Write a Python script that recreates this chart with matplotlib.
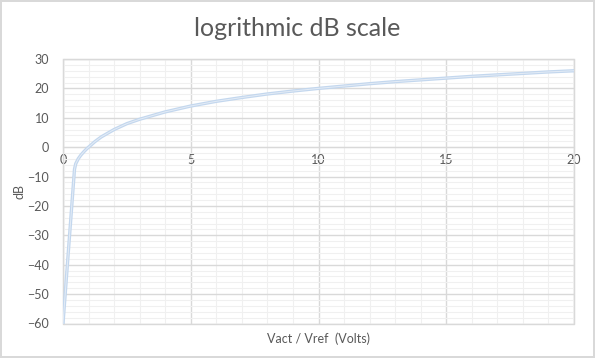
import matplotlib.pyplot as plt
from matplotlib.ticker import MultipleLocator

# values
ratio = [0, 0.45, 0.5, 0.6, 0.7, 0.8, 0.9, 1, 1.25, 1.5, 2, 2.5, 3, 4, 5, 6, 7, 8, 9, 10,
         11, 12, 13, 14, 15, 16, 17, 18, 19, 20]
db = [-60, -7.5, -5.6, -3.9, -2.7, -1.7, -0.8, 0, 1.9, 3.5, 6.0, 8.0, 9.5, 12.0, 14.0, 15.6,
      16.9, 18.1, 19.1, 20.0, 20.8, 21.6, 22.3, 22.9, 23.5, 24.1, 24.6, 25.1, 25.6, 26.0]

plt.rcParams['font.family'] = ['Lato', 'DejaVu Sans']
text_color = '#595959'
major_color = '#d9d9d9'
minor_color = '#f0f0f0'

fig = plt.figure(figsize=(5.95, 3.58), dpi=100)
fig.patch.set_edgecolor(major_color)
fig.patch.set_linewidth(1.5)
ax = fig.add_axes([63 / 595, 1 - 323.5 / 358, (574 - 63) / 595, (323.5 - 59) / 358])

ax.plot(ratio, db, color='#c3d7ee', lw=2.4, solid_joinstyle='round', zorder=3)
ax.plot(ratio, db, color='#e4ecf6', lw=0.7, solid_joinstyle='round', zorder=4)

ax.set_xlim(0, 20)
ax.set_ylim(-60, 30)
ax.xaxis.set_major_locator(MultipleLocator(5))
ax.xaxis.set_minor_locator(MultipleLocator(1))
ax.yaxis.set_major_locator(MultipleLocator(10))
ax.yaxis.set_minor_locator(MultipleLocator(2))
ax.grid(which='major', color=major_color, lw=1, zorder=1)
ax.grid(which='minor', color=minor_color, lw=0.8, zorder=0)
ax.set_axisbelow(True)

for side in ['top', 'right', 'left']:
    ax.spines[side].set_color(major_color)
ax.spines['bottom'].set_position(('data', 0))
ax.spines['bottom'].set_color(major_color)
ax.patch.set_edgecolor(major_color)
ax.patch.set_linewidth(1)

ax.tick_params(which='both', length=0, colors=text_color, labelsize=9)
ax.tick_params(axis='y', pad=10)
ax.tick_params(axis='x', pad=5)

fig.text(0.5, 1 - 28 / 358, 'logrithmic dB scale', ha='center', va='center',
         fontsize=18, color=text_color)
ax.set_ylabel('dB', fontsize=9, color=text_color)
ax.yaxis.set_label_coords((25 - 63) / 511, 0.5)
ax.text(0.5, -0.035, 'Vact / Vref  (Volts)', transform=ax.transAxes,
        ha='center', va='top', fontsize=9, color=text_color)

fig.savefig('out.png', dpi=100, edgecolor=fig.get_edgecolor())
